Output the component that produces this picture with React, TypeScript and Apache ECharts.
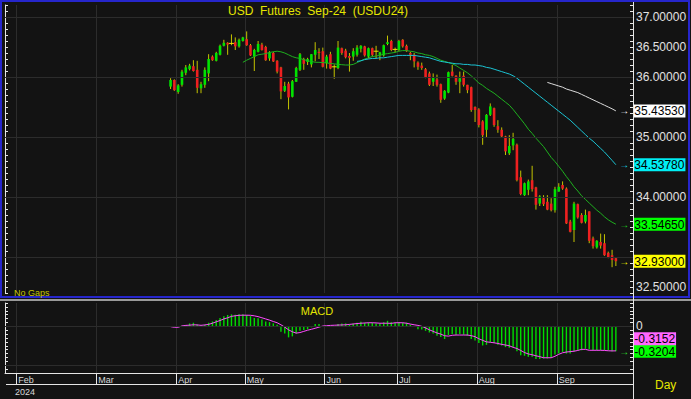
import React, { useEffect, useRef } from "react";
import * as echarts from "echarts";

const FONT = "'Liberation Sans', Arial, sans-serif";

// ---- axis layout data ----
const slotCount = 165; // trading-day slots shown on the time axis
const firstBarSlot = 43; // slot of the first candle
const monthNames = ["Feb", "Mar", "Apr", "May", "Jun", "Jul", "Aug", "Sep"];
const monthStartSlots = [3, 24, 45, 63, 84, 103, 124, 145];
const yearLabel = "2024";
const priceGridValues = [33, 34, 35, 36, 37];
const macdGridValues = [0, -0.5];

// ---- daily OHLC, USDU24 ----
const opens = [
  35.84, 35.95, 35.75, 35.87, 36.07, 36.13, 36.18, 36.12, 35.81, 35.87,
  36.06, 36.34, 36.27, 36.37, 36.52, 36.57, 36.56, 36.58, 36.51, 36.6,
  36.63, 36.53, 36.34, 36.42, 36.54, 36.5, 36.31, 36.4, 36.27, 36.16,
  35.77, 35.89, 35.67, 35.92, 36.12, 36.3, 36.25, 36.21, 36.37, 36.42,
  36.43, 36.23, 36.38, 36.17, 36.15, 36.48, 36.44, 36.35, 36.34, 36.37,
  36.47, 36.51, 36.34, 36.48, 36.43, 36.37, 36.36, 36.55, 36.6, 36.46,
  36.45, 36.62, 36.52, 36.4, 36.37, 36.24, 36.19, 36.13, 36.06, 35.92,
  35.96, 35.88, 35.64, 35.74, 36.09, 36.02, 35.92, 36.02, 35.87, 35.83,
  35.5, 35.46, 35.26, 35.12, 35.37, 35.48, 35.18, 35.12, 35.01, 34.73,
  34.86, 34.87, 34.33, 34.03, 34.12, 34.28, 34.16, 33.89, 33.98, 33.92,
  33.89, 33.78, 34.09, 34.2, 34.14, 33.59, 33.45, 33.88, 33.7, 33.59,
  33.76, 33.31, 33.16, 33.25, 33.23, 33.07, 33.03, 32.98,
];
const highs = [
  35.98, 35.96, 35.88, 36.12, 36.2, 36.22, 36.28, 36.27, 35.92, 36.16,
  36.38, 36.36, 36.42, 36.54, 36.62, 36.58, 36.71, 36.66, 36.64, 36.67,
  36.76, 36.55, 36.47, 36.6, 36.57, 36.52, 36.43, 36.42, 36.28, 36.17,
  35.92, 35.92, 35.95, 36.17, 36.4, 36.32, 36.32, 36.38, 36.58, 36.48,
  36.49, 36.37, 36.42, 36.21, 36.6, 36.49, 36.47, 36.4, 36.48, 36.53,
  36.53, 36.52, 36.49, 36.49, 36.52, 36.42, 36.54, 36.69, 36.62, 36.49,
  36.62, 36.63, 36.54, 36.42, 36.4, 36.26, 36.24, 36.15, 36.09, 36.06,
  36.04, 35.89, 35.78, 36.09, 36.2, 36.03, 36.09, 36.09, 35.87, 35.84,
  35.51, 35.48, 35.28, 35.38, 35.56, 35.49, 35.28, 35.16, 35.02, 35.03,
  35.07, 34.89, 34.44, 34.24, 34.29, 34.52, 34.17, 34.03, 34.03, 34.03,
  33.98, 34.17, 34.23, 34.26, 34.16, 33.62, 33.92, 33.89, 33.73, 33.79,
  33.76, 33.34, 33.28, 33.39, 33.38, 33.09, 33.12, 32.99,
];
const lows = [
  35.8, 35.77, 35.72, 35.84, 36.03, 36.11, 36.09, 35.73, 35.73, 35.82,
  35.93, 36.27, 36.26, 36.36, 36.51, 36.37, 36.53, 36.45, 36.49, 36.59,
  36.52, 36.35, 36.1, 36.41, 36.44, 36.27, 36.27, 36.25, 36.06, 35.63,
  35.75, 35.46, 35.66, 35.92, 36.1, 36.12, 36.2, 36.16, 36.26, 36.3,
  36.16, 36.14, 36.13, 35.97, 36.13, 36.37, 36.31, 36.09, 36.27, 36.34,
  36.41, 36.34, 36.31, 36.34, 36.31, 36.28, 36.34, 36.53, 36.43, 36.41,
  36.43, 36.49, 36.42, 36.28, 36.16, 36.12, 36.12, 35.98, 35.85, 35.85,
  35.84, 35.57, 35.62, 35.73, 36.01, 35.87, 35.73, 35.84, 35.73, 35.42,
  35.25, 35.16, 34.87, 34.99, 35.35, 35.17, 35.07, 34.99, 34.7, 34.7,
  34.78, 34.26, 34.03, 34.02, 34.03, 34.09, 33.79, 33.85, 33.85, 33.78,
  33.76, 33.74, 34.09, 34.12, 33.55, 33.41, 33.25, 33.64, 33.56, 33.56,
  33.23, 33.14, 33.14, 33.14, 33.02, 32.98, 32.83, 32.85,
];
const closes = [
  35.95, 35.78, 35.86, 36.09, 36.16, 36.19, 36.1, 35.82, 35.88, 36.12,
  36.3, 36.28, 36.4, 36.52, 36.57, 36.54, 36.56, 36.51, 36.62, 36.66,
  36.53, 36.36, 36.45, 36.55, 36.45, 36.28, 36.41, 36.26, 36.09, 35.76,
  35.85, 35.66, 35.93, 36.15, 36.38, 36.22, 36.3, 36.38, 36.45, 36.4,
  36.17, 36.34, 36.14, 36.17, 36.49, 36.4, 36.33, 36.32, 36.43, 36.49,
  36.52, 36.36, 36.48, 36.37, 36.43, 36.41, 36.53, 36.58, 36.45, 36.46,
  36.6, 36.51, 36.43, 36.37, 36.26, 36.17, 36.15, 35.99, 35.87, 35.99,
  35.87, 35.62, 35.77, 36.08, 36.02, 35.92, 35.98, 35.87, 35.78, 35.45,
  35.45, 35.2, 35.03, 35.37, 35.51, 35.2, 35.12, 35.01, 34.76, 34.85,
  34.97, 34.28, 34.05, 34.23, 34.26, 34.13, 33.87, 34.01, 33.88, 33.79,
  33.78, 34.13, 34.17, 34.14, 33.56, 33.42, 33.89, 33.66, 33.57, 33.7,
  33.27, 33.18, 33.27, 33.19, 33.03, 32.99, 32.95, 32.93,
];

// ---- moving averages (start bar index + values) ----
const sma20Start = 19;
const sma20 = [
  36.245, 36.28, 36.31, 36.34, 36.37, 36.38, 36.39, 36.41, 36.42, 36.43,
  36.42, 36.4, 36.37, 36.34, 36.32, 36.31, 36.29, 36.27, 36.26, 36.245,
  36.245, 36.24, 36.235, 36.225, 36.22, 36.21, 36.205, 36.2, 36.2, 36.21,
  36.24, 36.27, 36.3, 36.32, 36.34, 36.35, 36.36, 36.38, 36.39, 36.4,
  36.41, 36.43, 36.44, 36.44, 36.43, 36.42, 36.4, 36.39, 36.37, 36.36,
  36.34, 36.31, 36.28, 36.26, 36.24, 36.22, 36.19, 36.15, 36.11, 36.07,
  36.02, 35.96, 35.9, 35.86, 35.81, 35.77, 35.73, 35.68, 35.63, 35.58,
  35.53, 35.46, 35.38, 35.3, 35.22, 35.13, 35.06, 34.98, 34.91, 34.84,
  34.75, 34.66, 34.59, 34.51, 34.43, 34.34, 34.26, 34.17, 34.1, 34.02,
  33.96, 33.9, 33.84, 33.78, 33.73, 33.67, 33.62, 33.58, 33.5465,
];
const sma50Start = 49;
const sma50 = [
  36.26, 36.27, 36.29, 36.3, 36.31, 36.31, 36.32, 36.32, 36.33, 36.34,
  36.35, 36.36, 36.36, 36.36, 36.36, 36.36, 36.35, 36.34, 36.33, 36.32,
  36.3, 36.28, 36.26, 36.25, 36.24, 36.23, 36.22, 36.22, 36.21, 36.21,
  36.2, 36.2, 36.19, 36.18, 36.16, 36.15, 36.13, 36.11, 36.09, 36.07,
  36.05, 36.02, 35.98, 35.93, 35.88, 35.83, 35.78, 35.73, 35.68, 35.63,
  35.58, 35.53, 35.48, 35.43, 35.38, 35.33, 35.28, 35.22, 35.16, 35.1,
  35.04, 34.98, 34.93, 34.87, 34.81, 34.75, 34.68, 34.61, 34.5378,
];
const sma100Start = 99;
const sma100 = [
  35.91, 35.89, 35.87, 35.85, 35.83, 35.8, 35.78, 35.76, 35.74, 35.71,
  35.68, 35.65, 35.62, 35.59, 35.56, 35.53, 35.5, 35.47, 35.4353,
];

// ---- MACD (bars) and signal line, one value per bar ----
const macd = [
  -0.005, -0.01, 0.0, 0.008, 0.017, 0.037, 0.046, 0.025, 0.012, 0.02,
  0.046, 0.062, 0.08, 0.108, 0.13, 0.146, 0.154, 0.15, 0.154, 0.154,
  0.146, 0.13, 0.108, 0.104, 0.088, 0.062, 0.054, 0.038, 0.02, -0.071,
  -0.092, -0.142, -0.129, -0.092, -0.058, -0.046, -0.038, -0.012, 0.029, 0.029,
  0.004, 0.004, -0.004, -0.004, 0.029, 0.038, 0.038, 0.025, 0.038, 0.046,
  0.058, 0.046, 0.05, 0.046, 0.038, 0.038, 0.054, 0.071, 0.054, 0.046,
  0.054, 0.046, 0.046, 0.02, 0.004, -0.038, -0.04, -0.058, -0.079, -0.092,
  -0.121, -0.138, -0.163, -0.113, -0.1, -0.108, -0.1, -0.108, -0.121, -0.163,
  -0.183, -0.213, -0.246, -0.238, -0.204, -0.213, -0.238, -0.246, -0.267, -0.275,
  -0.267, -0.321, -0.371, -0.379, -0.392, -0.392, -0.42, -0.42, -0.413, -0.413,
  -0.404, -0.363, -0.35, -0.329, -0.35, -0.35, -0.321, -0.308, -0.308, -0.288,
  -0.296, -0.308, -0.308, -0.308, -0.308, -0.308, -0.321, -0.3204,
];
const signal = [
  -0.004, -0.012, -0.012, 0.005, 0.012, 0.015, 0.02, 0.018, 0.013, 0.018,
  0.025, 0.04, 0.058, 0.075, 0.095, 0.11, 0.128, 0.136, 0.142, 0.143,
  0.143, 0.142, 0.135, 0.125, 0.11, 0.095, 0.08, 0.062, 0.046, 0.02,
  -0.01, -0.045, -0.07, -0.087, -0.08, -0.065, -0.05, -0.038, -0.025, -0.01,
  0.004, 0.008, 0.012, 0.014, 0.016, 0.018, 0.02, 0.025, 0.03, 0.036,
  0.04, 0.043, 0.046, 0.046, 0.044, 0.04, 0.04, 0.04, 0.038, 0.046,
  0.046, 0.046, 0.04, 0.029, 0.02, 0.012, 0.0, -0.02, -0.045, -0.065,
  -0.085, -0.1, -0.121, -0.126, -0.115, -0.112, -0.112, -0.112, -0.112, -0.12,
  -0.133, -0.16, -0.18, -0.2, -0.205, -0.212, -0.22, -0.232, -0.24, -0.25,
  -0.27, -0.285, -0.31, -0.337, -0.355, -0.365, -0.379, -0.39, -0.404, -0.404,
  -0.404, -0.385, -0.36, -0.34, -0.33, -0.325, -0.32, -0.31, -0.296, -0.296,
  -0.308, -0.308, -0.308, -0.308, -0.31, -0.314, -0.316, -0.3152,
];

const titleText = "USD  Futures  Sep-24  (USDU24)";

// ---- colours ----
const BG = "#131313";
const GRID = "#2c2c2c";
const AXIS = "#e6e6e6";
const UP = "#00e400";
const DOWN = "#ee2020";
const WICK = "#c4c400";
const DOJI = "#e8e800";

export default function App() {
  const ref = useRef<HTMLDivElement>(null);

  useEffect(() => {
    if (!ref.current) return;
    const chart = echarts.init(ref.current, null, { renderer: "svg" });

    const categories = Array.from({ length: slotCount }, (_, i) => String(i));
    const isMonthStart = (i: number) => monthStartSlots.indexOf(i) >= 0;
    const lastSlot = firstBarSlot + closes.length - 1;
    const last = (a: number[]) => a[a.length - 1];

    const candleData = opens.map((o, i) => [firstBarSlot + i, o, closes[i], lows[i], highs[i]]);
    const toPairs = (arr: number[], start: number) =>
      arr.map((v, i) => [firstBarSlot + start + i, v]);

    const renderCandle = (_params: any, api: any) => {
      const x = api.value(0);
      const o = api.value(1);
      const c = api.value(2);
      const l = api.value(3);
      const h = api.value(4);
      const pO = api.coord([x, o]);
      const pC = api.coord([x, c]);
      const pL = api.coord([x, l]);
      const pH = api.coord([x, h]);
      const cx = pO[0];
      const w = 2.6;
      const children: any[] = [
        {
          type: "line",
          shape: { x1: cx, y1: pH[1], x2: cx, y2: pL[1] },
          style: { stroke: WICK, lineWidth: 1 },
        },
      ];
      if (o === c) {
        children.push({
          type: "rect",
          shape: { x: cx - 2.5, y: pO[1] - 0.5, width: 5, height: 1 },
          style: { fill: DOJI },
        });
      } else {
        children.push({
          type: "rect",
          shape: {
            x: cx - w / 2,
            y: Math.min(pO[1], pC[1]),
            width: w,
            height: Math.max(1, Math.abs(pO[1] - pC[1])),
          },
          style: { fill: c > o ? UP : DOWN },
        });
      }
      return { type: "group", children };
    };

    const badge = (arrowColor: string, bg: string, text: string, dy = 0, showArrow = true) => ({
      show: true,
      position: "right",
      distance: 3,
      offset: [0, dy],
      formatter: `{a|${showArrow ? "→" : " "}}{b|${text}}`,
      rich: {
        a: { width: 14, color: arrowColor, fontSize: 10, fontFamily: FONT, align: "left" },
        b: {
          backgroundColor: bg,
          color: "#000",
          fontSize: 12,
          fontFamily: FONT,
          padding: [1, 1, 0, 1],
          lineHeight: 12,
        },
      },
    });
    const endMark = (value: number, label: any) => ({
      symbol: "circle",
      symbolSize: 1,
      silent: true,
      itemStyle: { color: "rgba(0,0,0,0)" },
      data: [{ coord: [lastSlot, value], label }],
    });

    // the value badges on the price scale cover the axis labels next to them
    const badgeValues = [last(closes), last(sma20), last(sma50), last(sma100)];
    const priceFmt = (v: number) => {
      if (Math.abs(v * 2 - Math.round(v * 2)) > 1e-6) return "";
      if (badgeValues.some((b) => Math.abs(b - v) < 0.16)) return "";
      return v.toFixed(5);
    };

    const option: any = {
      animation: false,
      backgroundColor: BG,
      grid: [
        { left: 5, width: 628, top: 5, height: 288 },
        { left: 5, width: 628, top: 303, height: 70 },
      ],
      xAxis: [
        {
          type: "category",
          gridIndex: 0,
          data: categories,
          boundaryGap: true,
          axisLine: { show: false, onZero: false },
          axisTick: { show: false },
          axisLabel: { show: false },
          splitLine: {
            show: true,
            interval: (i: number) => isMonthStart(i),
            lineStyle: { color: GRID, width: 1 },
          },
        },
        {
          type: "category",
          gridIndex: 1,
          data: categories,
          boundaryGap: true,
          axisLine: { show: true, onZero: false, lineStyle: { color: AXIS, width: 1 } },
          axisTick: {
            show: true,
            interval: (i: number) => isMonthStart(i),
            length: 11,
            lineStyle: { color: AXIS },
          },
          axisLabel: {
            show: true,
            interval: (i: number) => isMonthStart(i),
            formatter: (v: string) => {
              const k = monthStartSlots.indexOf(Number(v));
              return k >= 0 ? monthNames[k] : "";
            },
            color: "#d8d8d8",
            fontSize: 9,
            fontFamily: FONT,
            align: "left",
            margin: 2,
          },
          splitLine: {
            show: true,
            interval: (i: number) => isMonthStart(i),
            lineStyle: { color: GRID, width: 1 },
          },
        },
      ],
      yAxis: [
        {
          type: "value",
          gridIndex: 0,
          position: "right",
          min: 32.4,
          max: 37.2,
          interval: 0.1,
          axisLine: { show: true, lineStyle: { color: AXIS } },
          axisTick: { show: true, inside: true, length: 3, lineStyle: { color: AXIS } },
          axisLabel: { formatter: priceFmt, color: "#e2e2e2", fontSize: 12, fontFamily: FONT, margin: 3 },
          splitLine: { show: false },
        },
        {
          type: "value",
          gridIndex: 0,
          position: "left",
          min: 32.4,
          max: 37.2,
          interval: 0.1,
          axisLine: { show: true, lineStyle: { color: AXIS } },
          axisTick: { show: true, inside: true, length: 3, lineStyle: { color: AXIS } },
          axisLabel: { show: false },
          splitLine: { show: false },
        },
        {
          type: "value",
          gridIndex: 1,
          position: "right",
          min: -0.6,
          max: 0.3,
          interval: 0.05,
          axisLine: { show: true, lineStyle: { color: AXIS } },
          axisTick: { show: true, inside: true, length: 3, lineStyle: { color: AXIS } },
          axisLabel: {
            formatter: (v: number) => (Math.abs(v) < 1e-9 ? "0" : ""),
            color: "#e2e2e2",
            fontSize: 12,
            fontFamily: FONT,
            margin: 3,
          },
          splitLine: { show: false },
        },
        {
          type: "value",
          gridIndex: 1,
          position: "left",
          min: -0.6,
          max: 0.3,
          interval: 0.05,
          axisLine: { show: true, lineStyle: { color: AXIS } },
          axisTick: { show: true, inside: true, length: 3, lineStyle: { color: AXIS } },
          axisLabel: { show: false },
          splitLine: { show: false },
        },
      ],
      series: [
        {
          type: "line",
          name: "priceGrid",
          xAxisIndex: 0,
          yAxisIndex: 0,
          data: [],
          silent: true,
          z: 1,
          markLine: {
            silent: true,
            symbol: ["none", "none"],
            label: { show: false },
            lineStyle: { color: GRID, type: "solid", width: 1 },
            data: priceGridValues.map((v) => ({ yAxis: v })),
          },
        },
        {
          type: "custom",
          name: "USDU24",
          xAxisIndex: 0,
          yAxisIndex: 0,
          data: candleData,
          encode: { x: 0, y: [1, 2, 3, 4] },
          renderItem: renderCandle,
          z: 3,
          markPoint: endMark(last(closes), badge("#ffff00", "#ffff00", last(closes).toFixed(5))),
        },
        {
          type: "line",
          name: "SMA20",
          xAxisIndex: 0,
          yAxisIndex: 0,
          data: toPairs(sma20, sma20Start),
          symbol: "none",
          lineStyle: { color: "#1fb01f", width: 1 },
          z: 4,
          markPoint: endMark(last(sma20), badge("#1fd01f", "#00ff00", last(sma20).toFixed(5))),
        },
        {
          type: "line",
          name: "SMA50",
          xAxisIndex: 0,
          yAxisIndex: 0,
          data: toPairs(sma50, sma50Start),
          symbol: "none",
          lineStyle: { color: "#1cc4d4", width: 1 },
          z: 4,
          markPoint: endMark(last(sma50), badge("#1cd8e8", "#00eef4", last(sma50).toFixed(5))),
        },
        {
          type: "line",
          name: "SMA100",
          xAxisIndex: 0,
          yAxisIndex: 0,
          data: toPairs(sma100, sma100Start),
          symbol: "none",
          lineStyle: { color: "#dcdcdc", width: 1 },
          z: 4,
          markPoint: endMark(last(sma100), badge("#ffffff", "#ffffff", last(sma100).toFixed(5))),
        },
        {
          type: "line",
          name: "macdGrid",
          xAxisIndex: 1,
          yAxisIndex: 2,
          data: [],
          silent: true,
          z: 1,
          markLine: {
            silent: true,
            symbol: ["none", "none"],
            label: { show: false },
            lineStyle: { color: GRID, type: "solid", width: 1 },
            data: macdGridValues.map((v) => ({ yAxis: v })),
          },
        },
        {
          type: "bar",
          name: "MACD",
          xAxisIndex: 1,
          yAxisIndex: 2,
          data: toPairs(macd, 0),
          barWidth: 1.4,
          itemStyle: { color: "#00dc00" },
          z: 3,
          markPoint: endMark(last(macd), badge("#30e030", "#00ff00", last(macd).toFixed(4))),
        },
        {
          type: "line",
          name: "Signal",
          xAxisIndex: 1,
          yAxisIndex: 2,
          data: toPairs(signal, 0),
          symbol: "none",
          lineStyle: { color: "#ff4cff", width: 1 },
          z: 4,
          markPoint: endMark(
            last(signal),
            badge("#ff60ff", "#ff66ff", last(signal).toFixed(4), -12, false)
          ),
        },
      ],
      graphic: [
        {
          type: "rect",
          silent: true,
          z: 50,
          shape: { x: 1, y: 1, width: 688, height: 296 },
          style: { fill: "transparent", stroke: "#2626cc", lineWidth: 2 },
        },
        {
          type: "line",
          silent: true,
          z: 50,
          shape: { x1: 0, y1: 300, x2: 691, y2: 300 },
          style: { stroke: "#9a9a9a", lineWidth: 2 },
        },
        {
          type: "line",
          silent: true,
          z: 50,
          shape: { x1: 633.5, y1: 2, x2: 633.5, y2: 399 },
          style: { stroke: AXIS, lineWidth: 1 },
        },
        {
          type: "line",
          silent: true,
          z: 50,
          shape: { x1: 6, y1: 384.5, x2: 633, y2: 384.5 },
          style: { stroke: AXIS, lineWidth: 1 },
        },
        {
          type: "text",
          silent: true,
          z: 50,
          x: 318,
          y: 11,
          style: {
            text: titleText,
            fill: "#e6e600",
            font: `12px ${FONT}`,
            align: "center",
            textAlign: "center",
            verticalAlign: "middle",
            textVerticalAlign: "middle",
          },
        },
        {
          type: "text",
          silent: true,
          z: 50,
          x: 14,
          y: 293,
          style: {
            text: "No Gaps",
            fill: "#c4c400",
            font: `9px ${FONT}`,
            verticalAlign: "middle",
            textVerticalAlign: "middle",
          },
        },
        {
          type: "text",
          silent: true,
          z: 50,
          x: 317,
          y: 311,
          style: {
            text: "MACD",
            fill: "#e6e600",
            font: `11px ${FONT}`,
            align: "center",
            textAlign: "center",
            verticalAlign: "middle",
            textVerticalAlign: "middle",
          },
        },
        {
          type: "text",
          silent: true,
          z: 50,
          x: 15,
          y: 392,
          style: {
            text: yearLabel,
            fill: "#d8d8d8",
            font: `9px ${FONT}`,
            verticalAlign: "middle",
            textVerticalAlign: "middle",
          },
        },
        {
          type: "text",
          silent: true,
          z: 50,
          x: 655,
          y: 385,
          style: {
            text: "Day",
            fill: "#e6e600",
            font: `12px ${FONT}`,
            verticalAlign: "middle",
            textVerticalAlign: "middle",
          },
        },
      ],
    };

    chart.setOption(option);
    return () => chart.dispose();
  }, []);

  return (
    <div
      ref={ref}
      style={{ position: "fixed", left: 0, top: 0, width: 691, height: 399 }}
    />
  );
}
